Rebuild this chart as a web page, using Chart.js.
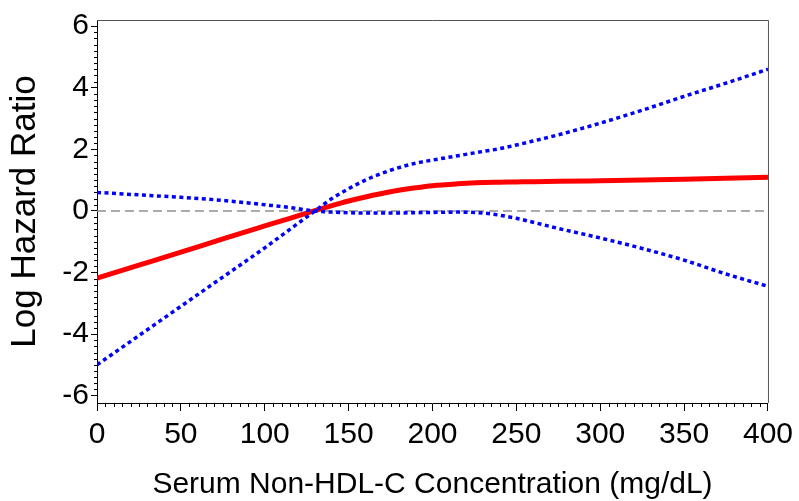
<!DOCTYPE html>
<html>
<head>
<meta charset="utf-8">
<title>Log Hazard Ratio</title>
<script src="https://cdn.jsdelivr.net/npm/chart.js@4.4.1/dist/chart.umd.min.js"></script>
<style>
  body { margin: 0; background: #fff; }
  #chart { display: block; }
</style>
</head>
<body>
<canvas id="chart" width="799" height="501"></canvas>
<script>
'use strict'

// serum non-HDL-C (mg/dL)
var nonHdl = [0, 25, 50, 75, 100, 115, 125, 130, 140, 150, 160, 175, 190, 200, 215, 230, 240, 250, 260, 275, 300, 325, 350, 375, 400];
// log hazard ratio estimate (red)
var logHr = [-2.18, -1.76, -1.34, -0.91, -0.49, -0.24, -0.07, 0.01, 0.17, 0.32, 0.45, 0.62, 0.75, 0.82, 0.88, 0.92, 0.93, 0.94, 0.95, 0.96, 0.98, 1.0, 1.03, 1.06, 1.09];
// dotted band, starts high on the left
var bandA = [0.6, 0.52, 0.44, 0.34, 0.2, 0.11, 0.03, 0.0, -0.04, -0.06, -0.07, -0.07, -0.06, -0.05, -0.04, -0.07, -0.14, -0.24, -0.37, -0.57, -0.88, -1.22, -1.6, -2.05, -2.45];
// dotted band, starts low on the left
var bandB = [-5.0, -4.05, -3.1, -2.15, -1.2, -0.6, -0.2, 0.0, 0.4, 0.72, 1.0, 1.32, 1.55, 1.65, 1.79, 1.93, 2.02, 2.14, 2.27, 2.47, 2.85, 3.27, 3.72, 4.15, 4.6];

var xTicks = [0, 50, 100, 150, 200, 250, 300, 350, 400];
var yTicks = [-6, -4, -2, 0, 2, 4, 6];
var xMinorStep = 5;
var yMinorStep = 0.2;

var FONT = "'Liberation Sans', Arial, sans-serif";

///////////////////////////////////////////////////////////////////

function toPoints(ys) {
  var pts = [];
  for (var i = 0; i < nonHdl.length; i++) {
    pts.push({ x: nonHdl[i], y: ys[i] });
  }
  return pts;
}

function fixTicks(list) {
  return function (scale) {
    scale.ticks = list.map(function (v) { return { value: v }; });
  };
}

///////////////////////////////////////////////////////////////////
// small minor ticks + grey frame on top/right

var extras = {
  id: 'extras',
  afterDraw: function (chart) {
    var ctx = chart.ctx;
    var a = chart.chartArea;
    var xs = chart.scales.x;
    var ys = chart.scales.y;
    var i, v;
    ctx.save();
    ctx.strokeStyle = '#000';
    ctx.lineWidth = 1;
    ctx.beginPath();
    for (i = 0; i * xMinorStep <= 400; i++) {
      v = i * xMinorStep;
      if (xTicks.indexOf(v) !== -1) continue;
      var px = Math.round(xs.getPixelForValue(v)) + 0.5;
      ctx.moveTo(px, a.bottom);
      ctx.lineTo(px, a.bottom + 4);
    }
    for (i = 0; i <= 60; i++) {
      v = Math.round((-6 + i * yMinorStep) * 10) / 10;
      if (yTicks.indexOf(v) !== -1) continue;
      var py = Math.round(ys.getPixelForValue(v)) + 0.5;
      ctx.moveTo(a.left, py);
      ctx.lineTo(a.left - 3, py);
    }
    ctx.stroke();

    ctx.strokeStyle = '#555';
    ctx.beginPath();
    ctx.moveTo(a.left, a.top + 0.5);
    ctx.lineTo(a.right + 0.5, a.top + 0.5);
    ctx.lineTo(a.right + 0.5, a.bottom);
    ctx.stroke();
    ctx.restore();
  }
};

///////////////////////////////////////////////////////////////////

var ctx = document.getElementById('chart').getContext('2d');
var chart = new Chart(ctx, {
  type: 'line',
  data: {
    datasets: [
      {
        data: toPoints(bandA),
        borderColor: '#0000ff',
        borderWidth: 3.5,
        borderDash: [4, 3.5],
        pointRadius: 0,
        cubicInterpolationMode: 'monotone'
      },
      {
        data: toPoints(bandB),
        borderColor: '#0000ff',
        borderWidth: 3.5,
        borderDash: [4, 3.5],
        pointRadius: 0,
        cubicInterpolationMode: 'monotone'
      },
      {
        data: toPoints(logHr),
        borderColor: '#ff0000',
        borderWidth: 5,
        pointRadius: 0,
        cubicInterpolationMode: 'monotone'
      },
      {
        data: [{ x: 0, y: 0 }, { x: 400, y: 0 }],
        borderColor: '#909090',
        borderWidth: 1.5,
        borderDash: [9, 5],
        pointRadius: 0
      }
    ]
  },
  options: {
    responsive: false,
    animation: false,
    layout: { padding: { top: 14, right: 26, left: 0, bottom: 0 } },
    plugins: {
      legend: { display: false },
      tooltip: { enabled: false }
    },
    scales: {
      x: {
        type: 'linear',
        min: 0,
        max: 400,
        afterBuildTicks: fixTicks(xTicks),
        afterFit: function (s) { s.height = 98; },
        grid: { drawOnChartArea: false, tickLength: 8, tickColor: '#000' },
        border: { color: '#000', width: 1 },
        ticks: { color: '#000', font: { family: FONT, size: 30 }, padding: 6, maxRotation: 0 },
        title: {
          display: true,
          text: 'Serum Non-HDL-C Concentration (mg/dL)',
          color: '#000',
          font: { family: FONT, size: 30 },
          padding: { top: 0, bottom: -2 }
        }
      },
      y: {
        type: 'linear',
        min: -6.24,
        max: 6.2,
        afterBuildTicks: fixTicks(yTicks),
        afterFit: function (s) { s.width = 97; },
        grid: { drawOnChartArea: false, tickLength: 6, tickColor: '#000' },
        border: { color: '#000', width: 1 },
        ticks: { color: '#000', font: { family: FONT, size: 30 }, padding: 2 },
        title: {
          display: true,
          text: 'Log Hazard Ratio',
          color: '#000',
          font: { family: FONT, size: 35 },
          padding: { top: 4, bottom: 0 }
        }
      }
    }
  },
  plugins: [extras]
});
</script>
</body>
</html>
